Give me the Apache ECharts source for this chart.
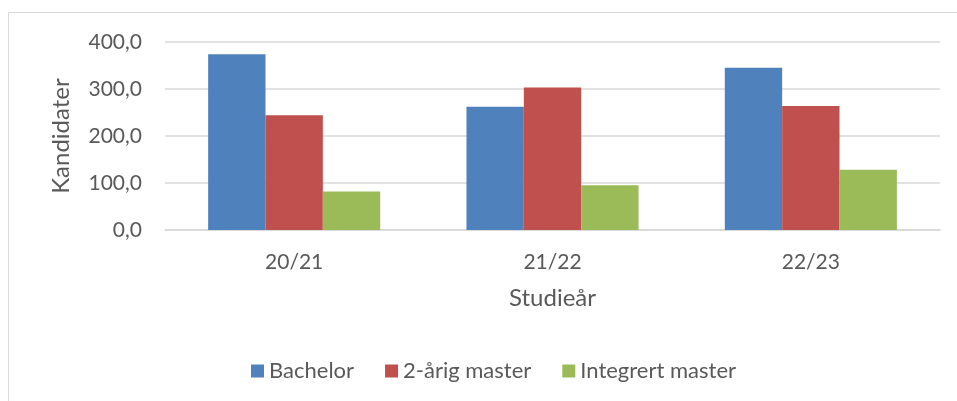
<!DOCTYPE html>
<html>
<head>
<meta charset="utf-8">
<script src="https://cdn.jsdelivr.net/npm/echarts@6/dist/echarts.min.js"></script>
<style>
    html, body { margin: 0; padding: 0; background: #fff; }
    #chart { width: 957px; height: 401px; }
</style>
</head>
<body>
<div id="chart"></div>
<script>
// 数据
const years = ['20/21', '21/22', '22/23'];
const bachelor = [374, 262, 345];
const master2 = [244, 303, 264];
const integrert = [82, 95, 128];
const yTicks = [0, 100, 200, 300, 400];

const textColor = '#595959';
const font = 'Lato';

const chart = echarts.init(document.getElementById('chart'));
chart.setOption({
    animation: false,
    textStyle: { fontFamily: font },
    graphic: [{
        type: 'rect',
        shape: { x: 8.5, y: 12.5, width: 960, height: 400 },
        style: { fill: 'none', stroke: '#d9d9d9', lineWidth: 1 }
    }],
    grid: {
        left: 165,
        right: 17,
        top: 42,
        bottom: 171
    },
    legend: {
        top: 355,
        left: 246,
        itemWidth: 13,
        itemHeight: 13,
        itemGap: 31,
        icon: 'rect',
        textStyle: { color: textColor, fontSize: 22, fontFamily: font },
        data: ['Bachelor', '2-årig master', 'Integrert master']
    },
    xAxis: {
        type: 'category',
        data: years,
        name: 'Studieår',
        nameLocation: 'middle',
        nameGap: 56,
        nameTextStyle: { color: textColor, fontSize: 24 },
        axisLine: { lineStyle: { color: '#d9d9d9', width: 1.5 } },
        axisTick: { show: false },
        axisLabel: { color: textColor, fontSize: 21, margin: 22 }
    },
    yAxis: {
        type: 'value',
        min: yTicks[0],
        max: yTicks[yTicks.length - 1],
        interval: 100,
        name: 'Kandidater',
        nameLocation: 'middle',
        nameGap: 92,
        nameTextStyle: { color: textColor, fontSize: 24 },
        axisLine: { show: false },
        axisTick: { show: false },
        splitLine: { lineStyle: { color: '#d9d9d9', width: 1.5 } },
        axisLabel: {
            color: textColor,
            fontSize: 21,
            margin: 23,
            formatter: v => v.toFixed(1).replace('.', ',')
        }
    },
    series: [{
        name: 'Bachelor',
        type: 'bar',
        data: bachelor,
        barGap: 0,
        barCategoryGap: '33.4%',
        itemStyle: { color: '#4f81bd' }
    }, {
        name: '2-årig master',
        type: 'bar',
        data: master2,
        itemStyle: { color: '#c0504d' }
    }, {
        name: 'Integrert master',
        type: 'bar',
        data: integrert,
        itemStyle: { color: '#9bbb59' }
    }]
});
</script>
</body>
</html>
